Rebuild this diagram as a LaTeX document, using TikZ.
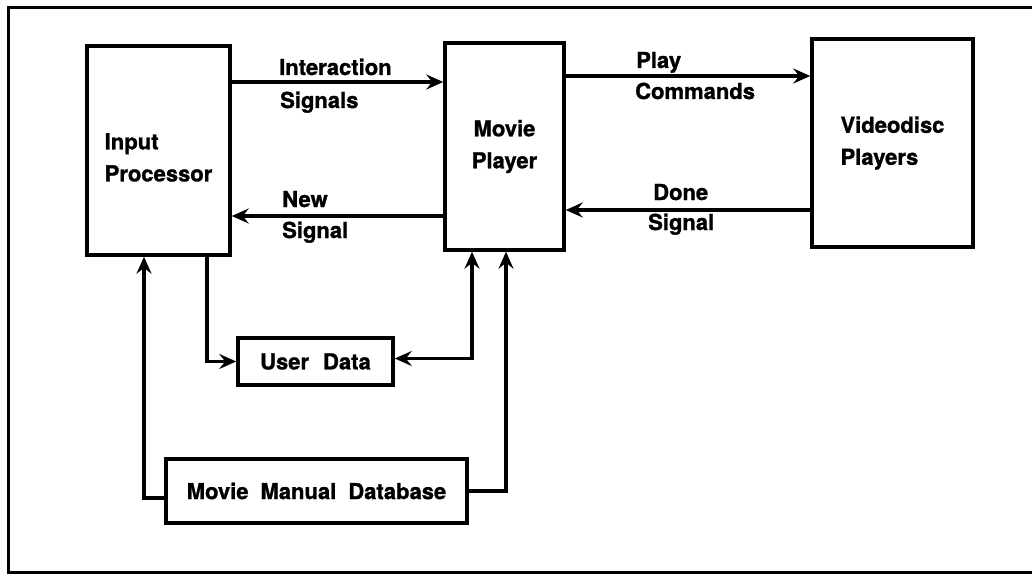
\documentclass[tikz,border=0pt]{standalone}
\usepackage{fontspec}
\setmainfont{TeX Gyre Heros}[BoldFeatures={FakeBold=1.2}]
\usetikzlibrary{arrows.meta}
\begin{document}
\begin{tikzpicture}[x=1pt,y=-1pt,
  tip/.tip={Stealth[length=17pt,width=15pt,inset=6pt]},
  box/.style={draw, line width=3.5pt, inner sep=0pt, align=left,
    font=\fontsize{22}{32}\selectfont\bfseries},
  lbl/.style={anchor=base west, inner sep=0pt,
    font=\fontsize{22}{26}\selectfont\bfseries},
  arr/.style={line width=3.5pt, -tip},
  arrb/.style={line width=3.5pt, tip-tip},
  frame/.style={line width=3pt}]
\useasboundingbox (0,0) rectangle (1032,575);
% outer frame (open on the right, cut by the page edge)
\draw[frame] (1032,8) -- (8,8) -- (8,572) -- (1032,572);

% boxes
\node[box, minimum width=143pt, minimum height=209pt] (ip) at (158.5,150.5) {\rule{0pt}{30pt}Input\\Processor};
\node[box, align=center, minimum width=119pt, minimum height=207pt] (mp) at (504.5,146.5) {Movie\\Player};
\node[box, minimum width=161pt, minimum height=208pt] (vd) at (892.5,143) {Videodisc\\Players};
\node[box, minimum width=155pt, minimum height=47pt] (ud) at (315.5,361.5) {User\hspace{14pt}Data};
\node[box, minimum width=301pt, minimum height=64pt] (mmd) at (316.5,491) {Movie\hspace{12pt}Manual\hspace{12pt}Database};

% horizontal connectors
\draw[arr] (ip.east |- 0,82) -- (mp.west |- 0,82);
\draw[arr] (mp.west |- 0,216) -- (ip.east |- 0,216);
\draw[arr] (mp.east |- 0,76) -- (vd.west |- 0,76);
\draw[arr] (vd.west |- 0,210) -- (mp.east |- 0,210);

% lower connectors
\draw[arr] (ip.south -| 207,0) |- (ud.west);
\draw[arrb] ([yshift=3pt]ud.east) -| (mp.south -| 472,0);
\draw[arr] ([yshift=-7pt]mmd.west) -| (ip.south -| 144,0);
\draw[arr] (mmd.east) -| (mp.south -| 506,0);

% connector labels
\node[lbl] (l1a) at (279,75) {Interaction};
\node[lbl] (l1b) at (280,108) {Signals};
\node[lbl] (l2a) at (282,207) {New};
\node[lbl] (l2b) at (282,238) {Signal};
\node[lbl] (l3a) at (636,68) {Play};
\node[lbl] (l3b) at (635,99) {Commands};
\node[lbl] (l4a) at (653,200) {Done};
\node[lbl] (l4b) at (648,230) {Signal};
\end{tikzpicture}
\end{document}
